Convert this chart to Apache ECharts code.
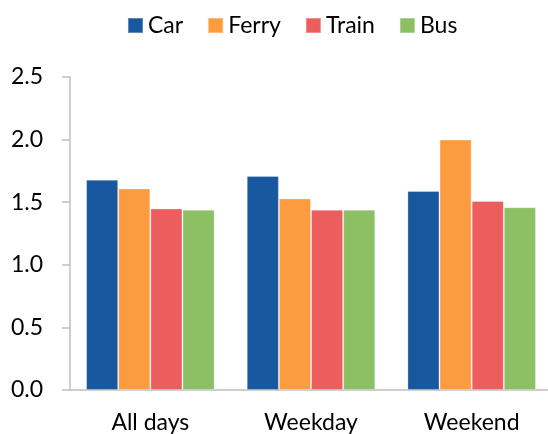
<!DOCTYPE html>
<html><head><meta charset="utf-8">
<script src="https://cdn.jsdelivr.net/npm/echarts@6/dist/echarts.min.js"></script>
<style>html,body{margin:0;padding:0;background:#fff}#c{width:548px;height:434px}</style>
</head><body><div id="c"></div>
<script>
var categories = ['All days', 'Weekday', 'Weekend'];
var seriesNames = ['Car', 'Ferry', 'Train', 'Bus'];
var carValues = [1.68, 1.71, 1.59];
var ferryValues = [1.61, 1.53, 2.00];
var trainValues = [1.45, 1.44, 1.51];
var busValues = [1.44, 1.44, 1.46];
var colors = ['#17589E', '#FD9B41', '#EC5D5D', '#8DBF64'];
var valuesList = [carValues, ferryValues, trainValues, busValues];
var FONT = 'Lato';
var chart = echarts.init(document.getElementById('c'));
chart.setOption({
  animation: false,
  textStyle: { fontFamily: FONT },
  legend: {
    left: 122, top: 9, itemWidth: 15, itemHeight: 15, itemGap: 24,
    icon: 'rect',
    textStyle: { fontFamily: FONT, fontSize: 23, color: '#000' },
    data: seriesNames
  },
  grid: { left: 70, right: -4, top: 77, bottom: 44, containLabel: false, outerBoundsMode: 'none' },
  xAxis: {
    type: 'category', data: categories,
    axisLine: { lineStyle: { color: '#BFBFBF', width: 1.5 } },
    axisTick: { show: false },
    axisLabel: { fontFamily: FONT, fontSize: 23, color: '#000', margin: 21 }
  },
  yAxis: {
    type: 'value', min: 0, max: 2.5, interval: 0.5,
    axisLine: { show: true, lineStyle: { color: '#BFBFBF', width: 1.5 } },
    axisTick: { show: true, length: 8, lineStyle: { color: '#BFBFBF', width: 1.5 } },
    splitLine: { show: false },
    axisLabel: { fontFamily: FONT, fontSize: 23, color: '#000', margin: 27,
      formatter: function (v) { return v.toFixed(1); } }
  },
  series: seriesNames.map(function (n, i) {
    return {
      name: n, type: 'bar', data: valuesList[i],
      barGap: '0%', barCategoryGap: '20%',
      itemStyle: { color: colors[i], borderColor: 'rgba(255,255,255,0.3)', borderWidth: 1 }
    };
  })
});
</script></body></html>
